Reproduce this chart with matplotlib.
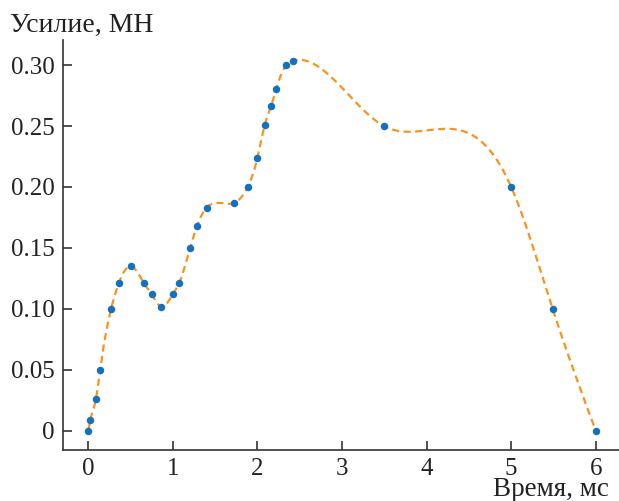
import numpy as np
import matplotlib
matplotlib.use("Agg")
import matplotlib.pyplot as plt
from matplotlib.ticker import FixedLocator, FixedFormatter

# data
time_ms = [0.0, 0.024, 0.09, 0.14, 0.27, 0.36, 0.51, 0.66, 0.75, 0.86, 1.0, 1.075,
           1.205, 1.285, 1.40, 1.725, 1.885, 2.0, 2.085, 2.16, 2.22, 2.34, 2.415,
           3.495, 5.0, 5.49, 6.0]
force_mn = [0.0, 0.009, 0.026, 0.050, 0.100, 0.121, 0.135, 0.121, 0.112, 0.102, 0.112,
            0.1215, 0.150, 0.168, 0.183, 0.187, 0.200, 0.224, 0.2505, 0.266, 0.280,
            0.300, 0.3035, 0.250, 0.200, 0.100, 0.0]
x_ticks = [0, 1, 2, 3, 4, 5, 6]
y_ticks = [0, 0.05, 0.10, 0.15, 0.20, 0.25, 0.30]
y_tick_labels = ["0", "0.05", "0.10", "0.15", "0.20", "0.25", "0.30"]
x_label = "Время, мс"
y_label = "Усилие, МН"


def natural_spline(x, y, xs):
    x = np.asarray(x, float)
    y = np.asarray(y, float)
    n = len(x)
    h = np.diff(x)
    A = np.zeros((n, n))
    b = np.zeros(n)
    A[0, 0] = 1.0
    A[-1, -1] = 1.0
    for i in range(1, n - 1):
        A[i, i - 1] = h[i - 1]
        A[i, i] = 2 * (h[i - 1] + h[i])
        A[i, i + 1] = h[i]
        b[i] = 6 * ((y[i + 1] - y[i]) / h[i] - (y[i] - y[i - 1]) / h[i - 1])
    M = np.linalg.solve(A, b)
    idx = np.clip(np.searchsorted(x, xs) - 1, 0, n - 2)
    x0, x1 = x[idx], x[idx + 1]
    hh = x1 - x0
    t0 = x1 - xs
    t1 = xs - x0
    return (M[idx] * t0 ** 3 / (6 * hh) + M[idx + 1] * t1 ** 3 / (6 * hh)
            + (y[idx] / hh - M[idx] * hh / 6) * t0
            + (y[idx + 1] / hh - M[idx + 1] * hh / 6) * t1)


plt.rcParams['font.family'] = ['Liberation Serif', 'DejaVu Serif']

W, H = 619, 501
fig = plt.figure(figsize=(W / 100, H / 100), dpi=100)
left, right, bottom, top = 63.3, 619, 450, 40
ax = fig.add_axes([left / W, 1 - bottom / H, (right - left) / W, (bottom - top) / H])

xs = np.linspace(time_ms[0], time_ms[-1], 1200)
ys = natural_spline(time_ms, force_mn, xs)
ax.plot(xs, ys, color='#f7931e', lw=1.6, ls=(0, (3.2, 2.0)), zorder=2)
ax.plot(time_ms, force_mn, 'o', color='#1570bd', ms=5.4, mec='none', zorder=3)

ax.set_xlim(-0.295, 6.274)
ax.set_ylim(-0.0156, 0.3205)
ax.xaxis.set_major_locator(FixedLocator(x_ticks))
ax.yaxis.set_major_locator(FixedLocator(y_ticks))
ax.yaxis.set_major_formatter(FixedFormatter(y_tick_labels))
for s in ['top', 'right']:
    ax.spines[s].set_visible(False)
for s in ['left', 'bottom']:
    ax.spines[s].set_linewidth(1.2)
    ax.spines[s].set_color('#333333')
ax.tick_params(direction='in', length=6.5, width=1.2, color='#333333',
               labelsize=18, labelcolor='#222222', pad=6)

fig.text(10 / W, 1 - 32 / H, y_label, fontsize=20, color='#222222', ha='left', va='baseline')
fig.text(609 / W, 1 - 496 / H, x_label, fontsize=19.5, color='#222222', ha='right', va='baseline')

fig.savefig('out.png', dpi=100)
